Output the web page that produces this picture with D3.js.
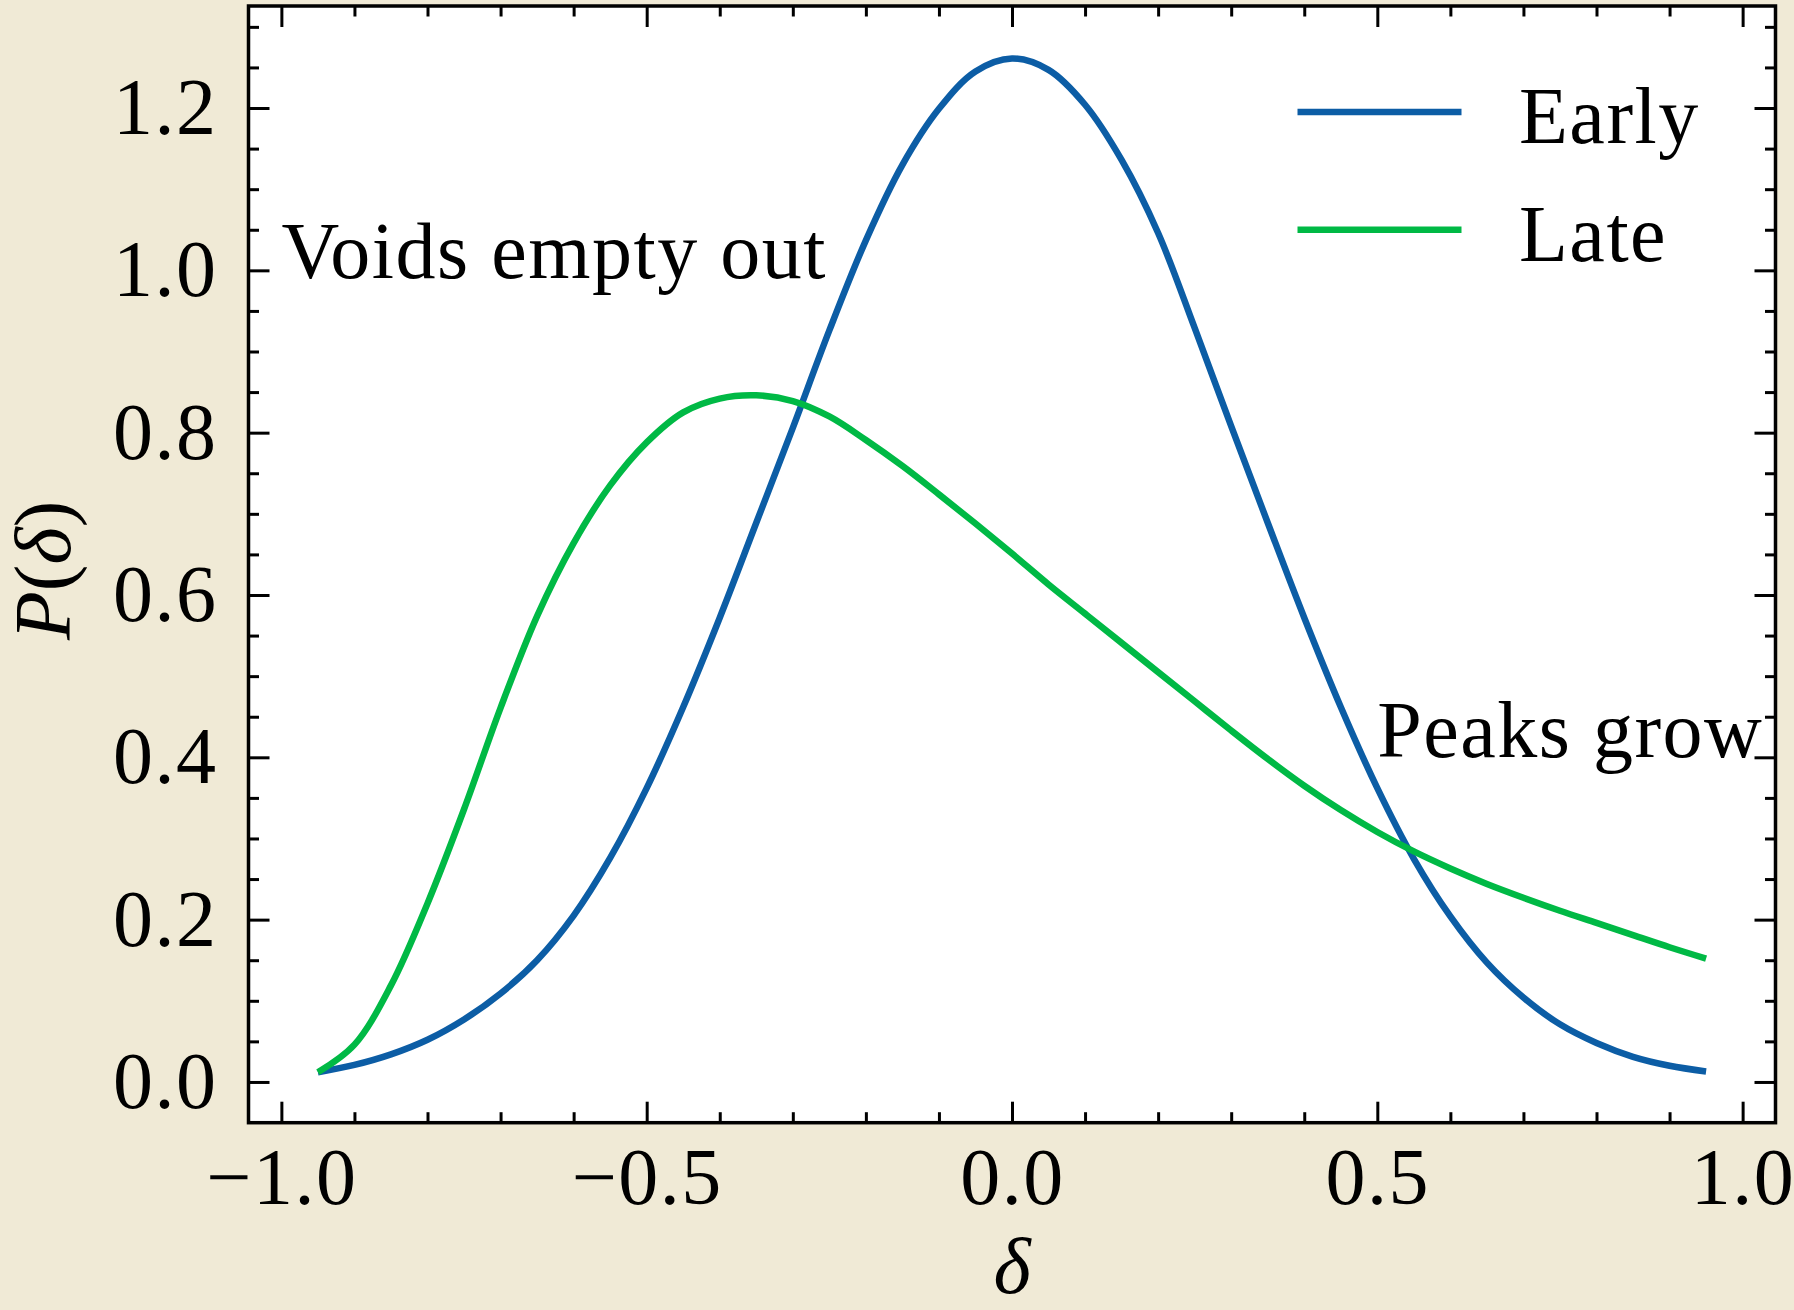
<!DOCTYPE html>
<html>
<head>
<meta charset="utf-8">
<script src="https://cdn.jsdelivr.net/npm/d3@7"></script>
<style>
  html, body { margin: 0; padding: 0; background: #f0ead6; }
  svg { display: block; }
</style>
</head>
<body>
<div id="chart"></div>
<script>
// values
const delta = [-0.95, -0.90, -0.85, -0.80, -0.75, -0.70, -0.65, -0.60, -0.55, -0.50,
  -0.45, -0.40, -0.35, -0.30, -0.25, -0.20, -0.15, -0.10, -0.05, 0.00,
  0.05, 0.10, 0.15, 0.20, 0.25, 0.30, 0.35, 0.40, 0.45, 0.50,
  0.55, 0.60, 0.65, 0.70, 0.75, 0.80, 0.85, 0.90, 0.95];
const early = [0.012, 0.021, 0.034, 0.052, 0.077, 0.109, 0.150, 0.205, 0.276, 0.362,
  0.462, 0.572, 0.689, 0.806, 0.926, 1.037, 1.130, 1.199, 1.245, 1.261,
  1.247, 1.204, 1.136, 1.046, 0.929, 0.808, 0.689, 0.572, 0.462, 0.362,
  0.275, 0.204, 0.147, 0.104, 0.071, 0.048, 0.031, 0.020, 0.013];
const late = [0.012, 0.046, 0.119, 0.220, 0.336, 0.461, 0.574, 0.664, 0.735, 0.788,
  0.825, 0.842, 0.846, 0.839, 0.820, 0.791, 0.759, 0.724, 0.688, 0.651,
  0.613, 0.577, 0.541, 0.505, 0.469, 0.433, 0.398, 0.365, 0.335, 0.308,
  0.284, 0.263, 0.244, 0.227, 0.211, 0.196, 0.181, 0.166, 0.152];
const seriesNames = ['Early', 'Late'];
const seriesColors = ['#0C5DA5', '#00B945'];
const xTicks = [-1.0, -0.5, 0.0, 0.5, 1.0];
const yTicks = [0.0, 0.2, 0.4, 0.6, 0.8, 1.0, 1.2];
const noteTexts = ['Voids empty out', 'Peaks grow'];
const noteX = [-1.0, 0.5];
const noteY = [0.99, 0.4];

const width = 1794, height = 1310;
const margin = { top: 6, right: 18.5, bottom: 187.3, left: 248.5 };
const fontSize = 80;
const spacing = 1.5;
const font = '"Liberation Serif", "DejaVu Serif", serif';
const plotW = width - margin.left - margin.right;
const plotH = height - margin.top - margin.bottom;

const svg = d3.select('#chart')
  .append('svg')
  .attr('width', width)
  .attr('height', height);

svg.append('rect')
  .attr('width', width).attr('height', height)
  .attr('fill', '#f0ead6');

const g = svg.append('g')
  .attr('transform', `translate(${margin.left},${margin.top})`);

g.append('rect')
  .attr('width', plotW).attr('height', plotH)
  .attr('fill', '#fff');

const x = d3.scaleLinear().domain([-1.045, 1.045]).range([0, plotW]);
const y = d3.scaleLinear().domain([-0.0502, 1.3257]).range([plotH, 0]);

// minor ticks
const xMinor = d3.range(-10, 11).filter(i => i % 5 !== 0).map(i => i / 10);
const yMinor = d3.range(0, 27).filter(i => i % 4 !== 0).map(i => i / 20);

function drawAxis(make, scale, offset, values, size, labels, pad) {
  const a = g.append('g')
    .attr('transform', offset)
    .call(make(scale)
      .tickValues(values)
      .tickSizeInner(-size)
      .tickSizeOuter(0)
      .tickPadding(pad)
      .tickFormat(labels ? d3.format('.1f') : ''));
  a.select('.domain').remove();
  a.selectAll('line').attr('stroke', '#000').attr('stroke-width', 3);
  a.attr('font-family', font).attr('font-size', fontSize);
  a.selectAll('text').attr('fill', '#000').attr('letter-spacing', spacing);
  return a;
}

const major = 21, minor = 10.5;
drawAxis(d3.axisBottom, x, `translate(0,${plotH})`, xTicks, major, true, 25);
drawAxis(d3.axisBottom, x, `translate(0,${plotH})`, xMinor, minor, false, 0);
drawAxis(d3.axisTop, x, 'translate(0,0)', xTicks, major, false, 0);
drawAxis(d3.axisTop, x, 'translate(0,0)', xMinor, minor, false, 0);
drawAxis(d3.axisLeft, y, 'translate(0,0)', yTicks, major, true, 31);
drawAxis(d3.axisLeft, y, 'translate(0,0)', yMinor, minor, false, 0);
drawAxis(d3.axisRight, y, `translate(${plotW},0)`, yTicks, major, false, 0);
drawAxis(d3.axisRight, y, `translate(${plotW},0)`, yMinor, minor, false, 0);

// curves
const series = [early, late];
const line = d3.line()
  .x((d, i) => x(delta[i]))
  .y(d => y(d))
  .curve(d3.curveCatmullRom.alpha(0.5));

series.forEach((s, k) => {
  g.append('path')
    .datum(s)
    .attr('d', line)
    .attr('fill', 'none')
    .attr('stroke', seriesColors[k])
    .attr('stroke-width', 6.5);
});

// annotations
noteTexts.forEach((t, i) => {
  g.append('text')
    .attr('x', x(noteX[i]))
    .attr('y', y(noteY[i]))
    .attr('font-family', font)
    .attr('font-size', fontSize)
    .attr('letter-spacing', spacing)
    .text(t);
});

// legend
const legend = g.append('g');
seriesNames.forEach((name, i) => {
  const ly = 106 + i * 117.7;
  legend.append('line')
    .attr('x1', plotW - 478).attr('x2', plotW - 314)
    .attr('y1', ly).attr('y2', ly)
    .attr('stroke', seriesColors[i])
    .attr('stroke-width', 6.5);
  legend.append('text')
    .attr('x', plotW - 256.5)
    .attr('y', ly + 31)
    .attr('font-family', font)
    .attr('font-size', fontSize)
    .attr('letter-spacing', spacing)
    .text(name);
});

// frame
g.append('rect')
  .attr('width', plotW).attr('height', plotH)
  .attr('fill', 'none')
  .attr('stroke', '#000')
  .attr('stroke-width', 3.5);

// axis labels
svg.append('text')
  .attr('x', margin.left + plotW / 2)
  .attr('y', 1293)
  .attr('text-anchor', 'middle')
  .attr('font-family', font)
  .attr('font-size', fontSize)
  .attr('font-style', 'italic')
  .text('δ');

const yl = svg.append('text')
  .attr('transform', `translate(70,${margin.top + plotH / 2 + 6}) rotate(-90)`)
  .attr('text-anchor', 'middle')
  .attr('font-family', font)
  .attr('font-size', fontSize);
yl.append('tspan').attr('font-style', 'italic').text('P');
yl.append('tspan').text('(');
yl.append('tspan').attr('font-style', 'italic').text('δ');
yl.append('tspan').text(')');
</script>
</body>
</html>
